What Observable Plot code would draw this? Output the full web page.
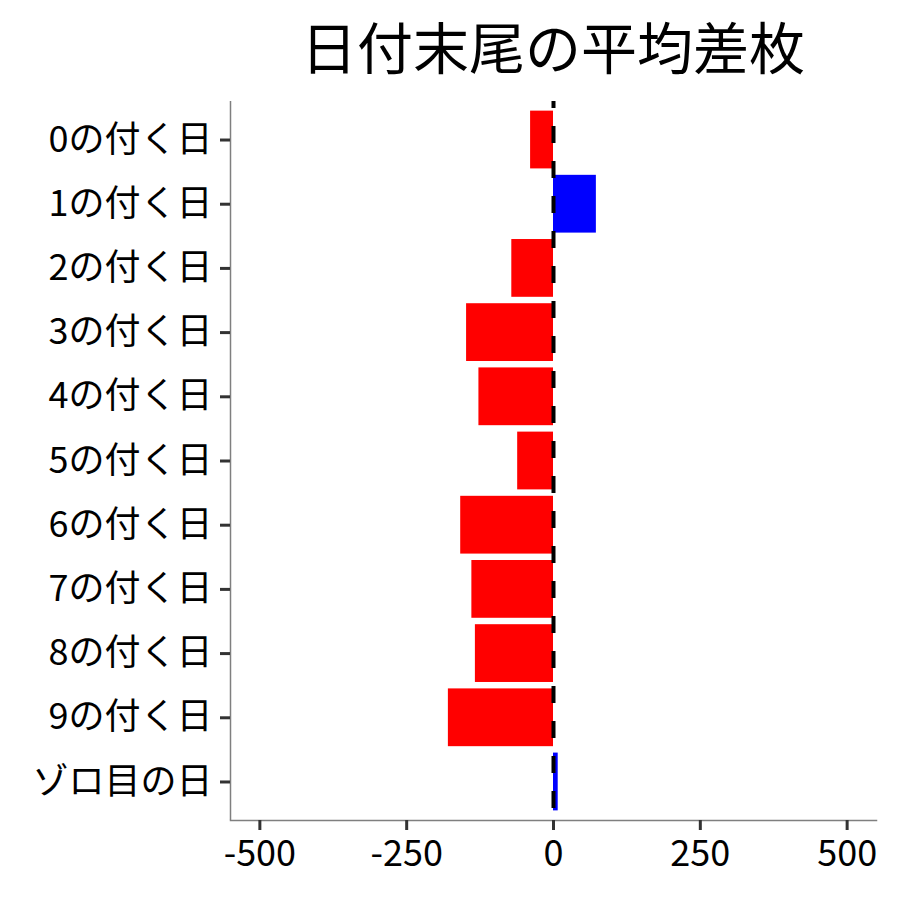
<!DOCTYPE html>
<html>
<head>
<meta charset="utf-8">
<script src="https://cdn.jsdelivr.net/npm/d3@7"></script>
<script src="https://cdn.jsdelivr.net/npm/@observablehq/plot@0.6"></script>
<style>
  html, body { margin: 0; padding: 0; background: #fff; }
  #title {
    margin-left: 230px; width: 646px; height: 100px; line-height: 90px;
    text-align: center; font-family: "Noto Sans CJK JP", sans-serif;
    font-size: 56px; color: #000; white-space: nowrap;
  }
</style>
</head>
<body>
<div id="title">日付末尾の平均差枚</div>
<div id="chart"></div>
<script>
const categories = ["0の付く日", "1の付く日", "2の付く日", "3の付く日", "4の付く日",
  "5の付く日", "6の付く日", "7の付く日", "8の付く日", "9の付く日", "ゾロ目の日"];
const values = [-39, 73, -71, -148, -127, -61, -158, -139, -133, -179, 8];
const xTicks = [-500, -250, 0, 250, 500];
const xDomain = [-550, 550];

const data = categories.map((c, i) => ({label: c, value: values[i], sign: values[i] >= 0 ? "pos" : "neg"}));

const chart = Plot.plot({
  width: 900,
  height: 800,
  marginLeft: 230,
  marginRight: 24,
  marginTop: 1,
  marginBottom: 80,
  style: {fontFamily: "'Noto Sans CJK JP', sans-serif", background: "white", color: "black"},
  x: {domain: xDomain},
  y: {domain: categories, paddingInner: 0.1, paddingOuter: 0.15, round: false},
  color: {domain: ["neg", "pos"], range: ["#FF0000", "#0000FF"]},
  marks: [
    Plot.barX(data, {x: "value", y: "label", fill: "sign"}),
    Plot.ruleX([0], {stroke: "black", strokeWidth: 4, strokeDasharray: "17,18", strokeDashoffset: 10}),
    Plot.ruleX([xDomain[0]], {stroke: "#7f7f7f", strokeWidth: 1.5}),
    Plot.frame({anchor: "bottom", stroke: "#7f7f7f", strokeWidth: 1.5}),
    Plot.axisY({fontSize: 36, tickSize: 10, tickPadding: 8, stroke: "#333", strokeWidth: 3, label: null, fill: "black"}),
    Plot.axisX({ticks: xTicks, tickFormat: d => String(d), fontSize: 36, tickSize: 10, tickPadding: 10, stroke: "#333", strokeWidth: 3, label: null, fill: "black"})
  ]
});
document.getElementById("chart").appendChild(chart);
</script>
</body>
</html>
